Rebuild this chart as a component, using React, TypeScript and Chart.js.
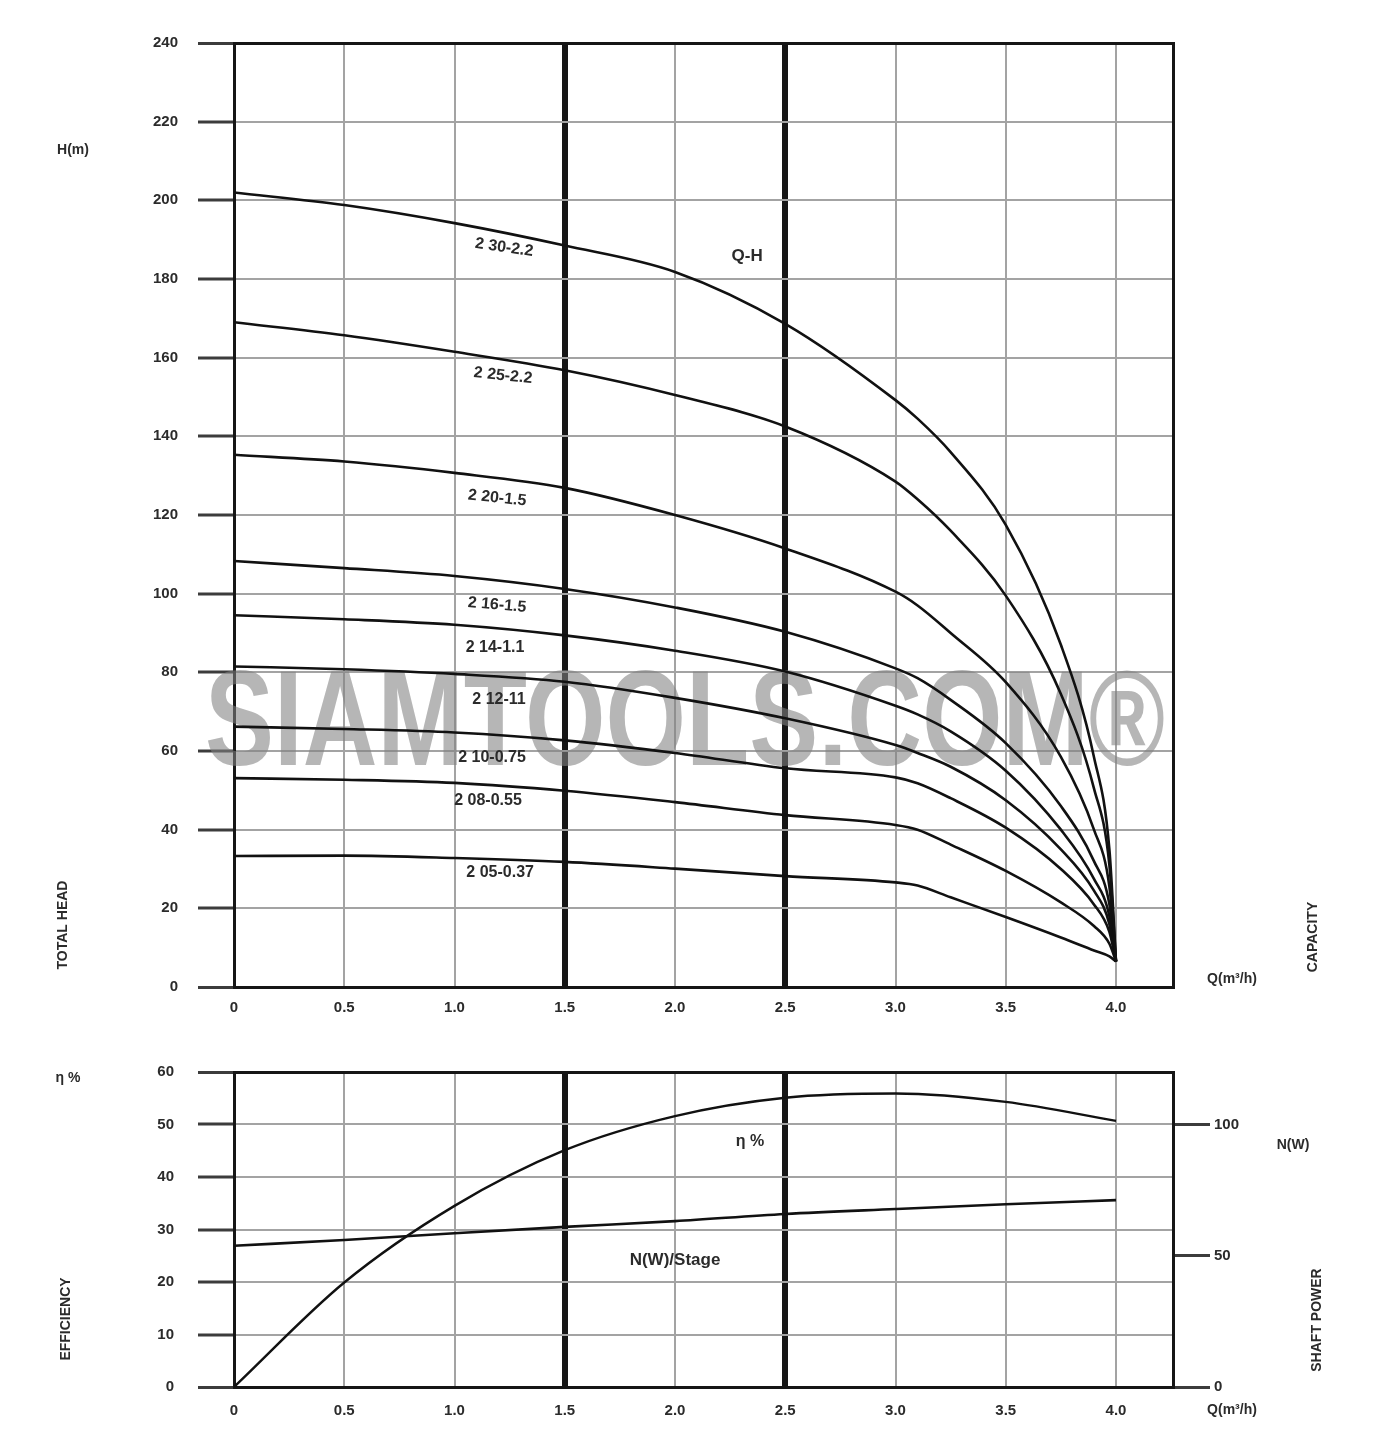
import React, { useEffect, useRef } from "react";
import { Chart, registerables } from "chart.js";

Chart.register(...registerables);

// ---------------- data ----------------
const Q_HEAD = [0, 0.5, 1.0, 1.5, 2.0, 2.5, 3.0, 3.1, 3.25, 3.5, 3.75, 3.9, 3.97, 4.0];

const MODEL_NAMES = [
  "2 30-2.2",
  "2 25-2.2",
  "2 20-1.5",
  "2 16-1.5",
  "2 14-1.1",
  "2 12-11",
  "2 10-0.75",
  "2 08-0.55",
  "2 05-0.37",
];

const H_230 = [202, 198.8, 194.2, 188.5, 181.8, 168.6, 149.2, 144.5, 136, 117.5, 87, 58.5, 35, 6.5];
const H_225 = [169, 165.7, 161.5, 156.8, 150.5, 142.5, 128.5, 124, 116, 99.5, 74.5, 50.5, 31, 6.5];
const H_220 = [135.3, 133.6, 130.7, 126.9, 120, 111.5, 100.5, 97, 90, 77.5, 58.5, 40, 25.5, 6.5];
const H_216 = [108.3, 106.5, 104.5, 101.2, 96.5, 90.3, 81, 78.5, 73, 62, 46, 32, 21, 6.5];
const H_214 = [94.5, 93.5, 92.1, 89.4, 85.5, 80.2, 71.5, 69.3, 65, 55, 40, 27.5, 18, 6.5];
const H_212 = [81.5, 80.8, 79.6, 77.6, 73.5, 68.3, 61.5, 59.5, 56, 47.5, 35, 24.5, 16, 6.5];
const H_210 = [66.2, 65.6, 64.7, 62.7, 59.5, 55.6, 53.3, 51.8, 48, 40.5, 30, 21, 14, 6.5];
const H_208 = [53.1, 52.7, 51.9, 49.9, 47, 43.7, 41.2, 40, 36.2, 29.5, 21.5, 15.5, 11, 6.5];
const H_205 = [33.3, 33.4, 32.8, 31.8, 30.1, 28.2, 26.6, 25.8, 22.8, 17.8, 12.6, 9.3, 7.8, 6.5];

const HEAD_SERIES = [H_230, H_225, H_220, H_216, H_214, H_212, H_210, H_208, H_205];

const Q_PERF = [0, 0.5, 1.0, 1.5, 2.0, 2.5, 3.0, 3.5, 4.0];
const ETA = [0, 19.9, 34.5, 45.1, 51.6, 55.1, 55.9, 54.3, 50.7];
const POWER = [53.8, 56, 58.6, 61, 63.2, 65.9, 67.8, 69.6, 71.2];

// ---------------- layout / style ----------------
const FONT = "'Liberation Sans', Arial, Helvetica, sans-serif";
const INK = "#2b2b2b";
const GRID = "#a3a3a3";
const FRAME = "#161616";
const W = 1374;
const TOP_H = 1030;
const BOT_H = 411;
const X_MAX = 4.2585;

// label anchors in data coordinates (Q, H) with rotation in degrees
const MODEL_LABEL_AT = [
  { q: 1.225, h: 188, rot: 8 },
  { q: 1.22, h: 155.4, rot: 6 },
  { q: 1.193, h: 124.3, rot: 6 },
  { q: 1.193, h: 97.1, rot: 5 },
  { q: 1.184, h: 86.2, rot: 0 },
  { q: 1.202, h: 73.0, rot: 0 },
  { q: 1.17, h: 58.4, rot: 0 },
  { q: 1.152, h: 47.3, rot: 0 },
  { q: 1.207, h: 29.0, rot: 0 },
];

const isThick = (v: number) => Math.abs(v - 1.5) < 1e-6 || Math.abs(v - 2.5) < 1e-6;

function drawText(
  ctx: CanvasRenderingContext2D,
  str: string,
  x: number,
  y: number,
  font: string,
  rotDeg = 0,
  maxWidth?: number
) {
  ctx.save();
  ctx.translate(x, y);
  if (rotDeg) ctx.rotate((rotDeg * Math.PI) / 180);
  ctx.font = font;
  ctx.fillStyle = INK;
  ctx.textAlign = "center";
  ctx.textBaseline = "middle";
  if (maxWidth) ctx.fillText(str, 0, 0, maxWidth);
  else ctx.fillText(str, 0, 0);
  ctx.restore();
}

function xScale(heightPx: number, pad: number) {
  return {
    type: "linear" as const,
    position: "bottom" as const,
    min: 0,
    max: X_MAX,
    afterFit: (s: any) => {
      s.height = heightPx;
    },
    ticks: {
      stepSize: 0.5,
      includeBounds: false,
      autoSkip: false,
      maxRotation: 0,
      padding: pad,
      color: INK,
      font: { family: FONT, size: 15, weight: "bold" as const },
      callback: (v: any) => (Number(v) === 0 ? "0" : Number(v).toFixed(1)),
    },
    grid: {
      drawTicks: false,
      color: (c: any) => (c.tick && (isThick(c.tick.value) || c.tick.value === 0) ? FRAME : GRID),
      lineWidth: (c: any) => (c.tick && isThick(c.tick.value) ? 6 : c.tick && c.tick.value === 0 ? 3 : 2),
    },
    border: { display: true, color: FRAME, width: 3 },
  };
}

function frameAxis(axis: "x" | "y", position: string) {
  return {
    type: "linear" as const,
    axis,
    position,
    display: true,
    min: 0,
    max: 1,
    afterFit: (s: any) => {
      if (axis === "x") s.height = 0;
      else s.width = 0;
    },
    ticks: { display: false },
    grid: { display: false, drawTicks: false },
    border: { display: true, color: FRAME, width: 3 },
  };
}

function leftY(max: number, step: number, pad: number) {
  return {
    type: "linear" as const,
    position: "left" as const,
    min: 0,
    max,
    afterFit: (s: any) => {
      s.width = 234;
    },
    ticks: {
      stepSize: step,
      padding: pad,
      color: INK,
      font: { family: FONT, size: 15, weight: "bold" as const },
    },
    grid: {
      drawTicks: true,
      tickLength: 36,
      tickColor: "#3c3c3c",
      tickWidth: 3,
      color: (c: any) => (c.tick && (c.tick.value === 0 || c.tick.value === max) ? FRAME : GRID),
      lineWidth: (c: any) => (c.tick && (c.tick.value === 0 || c.tick.value === max) ? 3 : 2),
    },
    border: { display: true, color: FRAME, width: 3 },
  };
}

const headDecor = {
  id: "headDecor",
  beforeDatasetsDraw(chart: any) {
    const { ctx } = chart;
    const x = chart.scales.x;
    const y = chart.scales.y;
    ctx.save();
    ctx.font = `bold 136px ${FONT}`;
    ctx.fillStyle = "rgba(130,130,130,0.58)";
    ctx.textAlign = "center";
    ctx.textBaseline = "alphabetic";
    ctx.fillText("SIAMTOOLS.COM®", x.getPixelForValue(2.045), y.getPixelForValue(56.4), 960);
    ctx.restore();
  },
  afterDatasetsDraw(chart: any) {
    const { ctx } = chart;
    const x = chart.scales.x;
    const y = chart.scales.y;
    MODEL_NAMES.forEach((name, i) => {
      const a = MODEL_LABEL_AT[i];
      drawText(ctx, name, x.getPixelForValue(a.q), y.getPixelForValue(a.h), `bold 16px ${FONT}`, a.rot);
    });
    drawText(ctx, "Q-H", x.getPixelForValue(2.327), y.getPixelForValue(185.8), `bold 17px ${FONT}`);
    const ca = chart.chartArea;
    drawText(ctx, "H(m)", ca.left - 161, 150, `bold 14px ${FONT}`);
    drawText(ctx, "TOTAL HEAD", ca.left - 171, 925, `bold 14px ${FONT}`, -90);
    drawText(ctx, "Q(m³/h)", ca.right + 59, 979, `bold 14px ${FONT}`);
    drawText(ctx, "CAPACITY", ca.right + 140, 937, `bold 14px ${FONT}`, -90);
  },
};

const perfDecor = {
  id: "perfDecor",
  afterDatasetsDraw(chart: any) {
    const { ctx } = chart;
    const x = chart.scales.x;
    const y = chart.scales.y;
    drawText(ctx, "η %", x.getPixelForValue(2.34), y.getPixelForValue(46.7), `bold 16px ${FONT}`);
    drawText(ctx, "N(W)/Stage", x.getPixelForValue(2.0), y.getPixelForValue(24.2), `bold 17px ${FONT}`);
    const ca = chart.chartArea;
    drawText(ctx, "η %", ca.left - 166, 48, `bold 14px ${FONT}`);
    drawText(ctx, "EFFICIENCY", ca.left - 168, 289, `bold 14px ${FONT}`, -90);
    drawText(ctx, "N(W)", ca.right + 120, 115, `bold 14px ${FONT}`);
    drawText(ctx, "SHAFT POWER", ca.right + 144, 290, `bold 14px ${FONT}`, -90);
    drawText(ctx, "Q(m³/h)", ca.right + 59, 380, `bold 14px ${FONT}`);
  },
};

export default function App() {
  const topRef = useRef<HTMLCanvasElement | null>(null);
  const botRef = useRef<HTMLCanvasElement | null>(null);

  useEffect(() => {
    document.body.style.margin = "0";
    const top = new Chart(topRef.current as HTMLCanvasElement, {
      type: "line",
      data: {
        datasets: HEAD_SERIES.map((vals, i) => ({
          label: MODEL_NAMES[i],
          data: Q_HEAD.map((q, k) => ({ x: q, y: vals[k] })),
          borderColor: "#111111",
          borderWidth: 2.6,
          pointRadius: 0,
          fill: false,
          cubicInterpolationMode: "monotone" as const,
        })),
      },
      options: {
        animation: false,
        responsive: false,
        devicePixelRatio: 1,
        layout: { padding: { top: 43, right: 201, left: 0, bottom: 0 } },
        plugins: { legend: { display: false }, tooltip: { enabled: false } },
        scales: {
          x: xScale(43, 12),
          xTop: frameAxis("x", "top"),
          y: leftY(240, 20, 20),
          yRight: frameAxis("y", "right"),
        } as any,
      },
      plugins: [headDecor],
    });

    const bot = new Chart(botRef.current as HTMLCanvasElement, {
      type: "line",
      data: {
        datasets: [
          {
            label: "η %",
            data: Q_PERF.map((q, k) => ({ x: q, y: ETA[k] })),
            borderColor: "#111111",
            borderWidth: 2.4,
            pointRadius: 0,
            fill: false,
            cubicInterpolationMode: "monotone" as const,
            yAxisID: "y",
          },
          {
            label: "N(W)/Stage",
            data: Q_PERF.map((q, k) => ({ x: q, y: POWER[k] })),
            borderColor: "#111111",
            borderWidth: 2.6,
            pointRadius: 0,
            fill: false,
            cubicInterpolationMode: "monotone" as const,
            yAxisID: "yN",
          },
        ],
      },
      options: {
        animation: false,
        responsive: false,
        devicePixelRatio: 1,
        layout: { padding: { top: 42, right: 121, left: 0, bottom: 0 } },
        plugins: { legend: { display: false }, tooltip: { enabled: false } },
        scales: {
          x: xScale(54, 15),
          xTop: frameAxis("x", "top"),
          y: leftY(60, 10, 24),
          yN: {
            type: "linear",
            position: "right",
            min: 0,
            max: 120,
            afterFit: (s: any) => {
              s.width = 80;
            },
            ticks: {
              stepSize: 50,
              includeBounds: false,
              padding: 4,
              color: INK,
              font: { family: FONT, size: 15, weight: "bold" },
            },
            grid: {
              drawOnChartArea: false,
              drawTicks: true,
              tickLength: 37,
              tickColor: "#3c3c3c",
              tickWidth: 3,
            },
            border: { display: true, color: FRAME, width: 3 },
          },
        } as any,
      },
      plugins: [perfDecor],
    });

    return () => {
      top.destroy();
      bot.destroy();
    };
  }, []);

  return (
    <div style={{ position: "absolute", left: 0, top: 0, width: W, height: TOP_H + BOT_H, background: "#fff" }}>
      <canvas ref={topRef} width={W} height={TOP_H} style={{ position: "absolute", left: 0, top: 0, width: W, height: TOP_H }} />
      <canvas ref={botRef} width={W} height={BOT_H} style={{ position: "absolute", left: 0, top: TOP_H, width: W, height: BOT_H }} />
    </div>
  );
}
